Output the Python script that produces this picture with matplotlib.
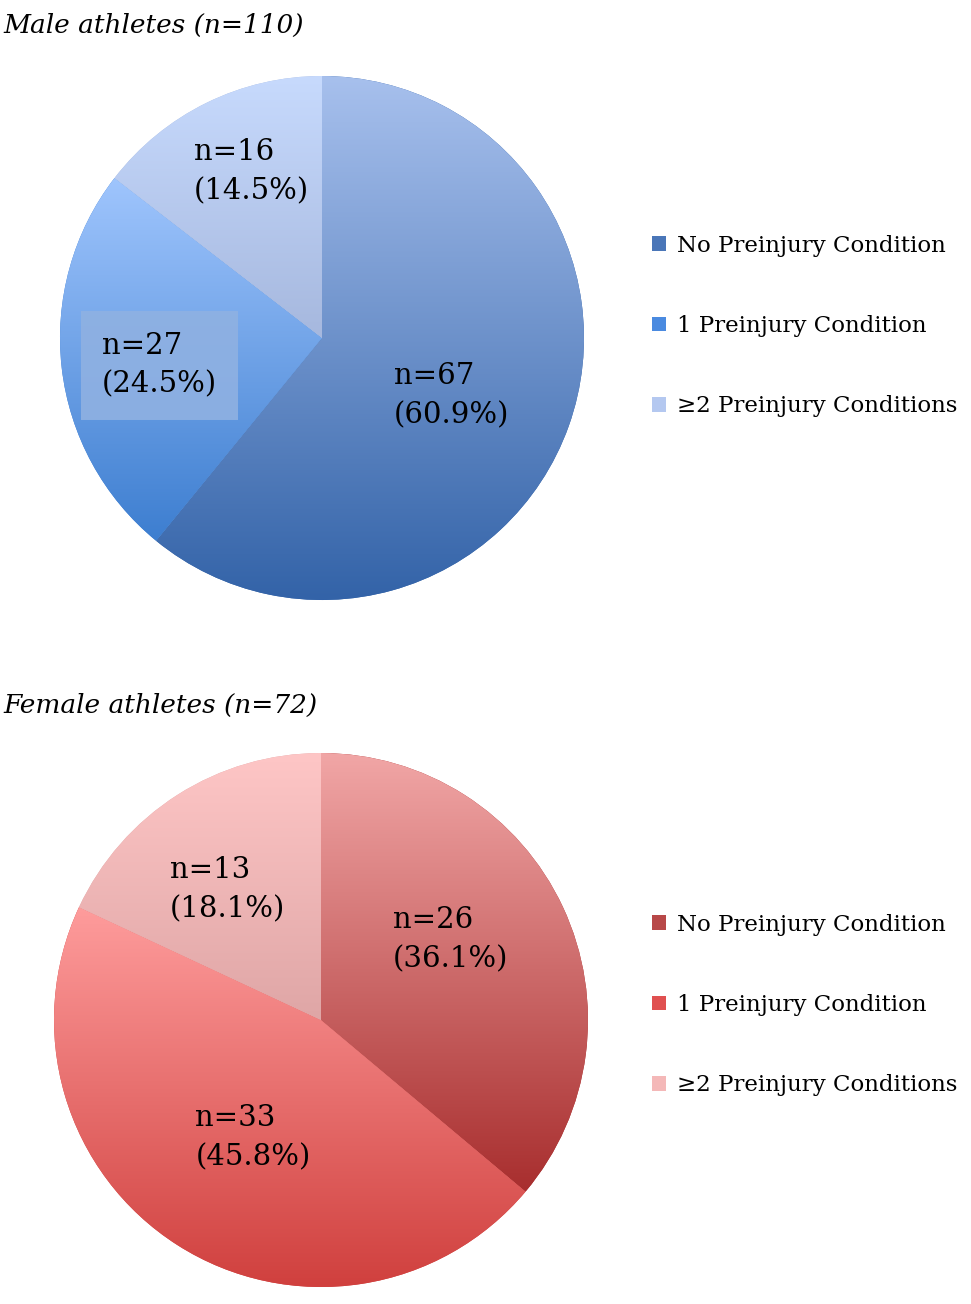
import matplotlib
matplotlib.use("Agg")
import matplotlib.pyplot as plt
from matplotlib.colors import to_rgb
from matplotlib.patches import Patch
import numpy as np

categories = ["No Preinjury Condition", "1 Preinjury Condition", "\u22652 Preinjury Conditions"]

male_counts = [67, 27, 16]
female_counts = [26, 33, 13]

male_title = "Male athletes (n=110)"
female_title = "Female athletes (n=72)"

# gradient colours per slice (top, bottom)
male_grad = [("#a7c0ed", "#3363a8"), ("#9fc5fd", "#3d7ed0"), ("#c7dafd", "#a6b8de")]
female_grad = [("#f1a6a6", "#a82e2e"), ("#fe9c9c", "#d0403e"), ("#fec6c6", "#dfa6a6")]
male_legend = ["#4a76b8", "#4a8ae0", "#b4c8f0"]
female_legend = ["#b84848", "#e05050", "#f4b8b8"]

# label placement: distance from centre (fraction of radius), angle shift in degrees
male_dist = [0.54, 0.63, 0.69]
male_shift = [-4.4, 2.9, -3.3]
female_dist = [0.57, 0.51, 0.60]
female_shift = [6.9, 2.5, 3.1]

W, H = 971, 1304
fig = plt.figure(figsize=(W / 100, H / 100), dpi=100)

serif = "DejaVu Serif"


def grad_fill(ax, wedge, top, bottom):
    ext = wedge.get_path().get_extents()
    t = np.linspace(0, 1, 256)[:, None]
    c0, c1 = np.array(to_rgb(top)), np.array(to_rgb(bottom))
    img = (c0 * (1 - t) + c1 * t)[:, None, :]
    im = ax.imshow(img, extent=[ext.x0, ext.x1, ext.y0, ext.y1],
                   origin="upper", aspect="auto", interpolation="bilinear", zorder=1)
    im.set_clip_path(wedge)


def draw_pie(cx, cy, r, counts, grads, dists, shifts, legcols, title, title_y, leg_y, boxed=None):
    ax = fig.add_axes([(cx - r) / W, (H - cy - r) / H, 2 * r / W, 2 * r / H])
    total = sum(counts)
    wedges, _ = ax.pie(counts, startangle=90, counterclock=False, radius=1,
                       wedgeprops=dict(linewidth=0))
    for i, (w, (top, bottom)) in enumerate(zip(wedges, grads)):
        w.set_facecolor(bottom)
        grad_fill(ax, w, top, bottom)
        mid = np.deg2rad((w.theta1 + w.theta2) / 2 + shifts[i])
        x, y = dists[i] * np.cos(mid), dists[i] * np.sin(mid)
        pct = 100 * counts[i] / total
        kw = {}
        if boxed == i:
            kw["bbox"] = dict(boxstyle="square,pad=0.72", facecolor="#8fb1e2",
                              edgecolor="none", alpha=0.9)
        ax.text(x, y, f"n={counts[i]}\n({pct:.1f}%)", ha="center", va="center",
                multialignment="left", fontsize=21, family=serif,
                linespacing=1.5, zorder=3, **kw)
    ax.set_xlim(-1, 1)
    ax.set_ylim(-1, 1)
    ax.set_aspect("auto")
    ax.axis("off")

    fig.text(3 / W, 1 - title_y / H, title, fontsize=19, family=serif,
             style="italic", va="center", ha="left")

    handles = [Patch(facecolor=c, edgecolor="none") for c in legcols]
    fig.legend(handles, categories, loc="center left",
               bbox_to_anchor=(652 / W, 1 - leg_y / H), frameon=False,
               prop=dict(family=serif, size=16.5), handlelength=0.6,
               handleheight=0.6, handletextpad=0.5, labelspacing=2.55,
               borderaxespad=0, borderpad=0)


draw_pie(322, 338, 262, male_counts, male_grad, male_dist, male_shift, male_legend,
         male_title, 25, 326, boxed=1)
draw_pie(321, 1020, 267, female_counts, female_grad, female_dist, female_shift, female_legend,
         female_title, 705, 1005)

fig.savefig("out.png", dpi=100, facecolor="white")
